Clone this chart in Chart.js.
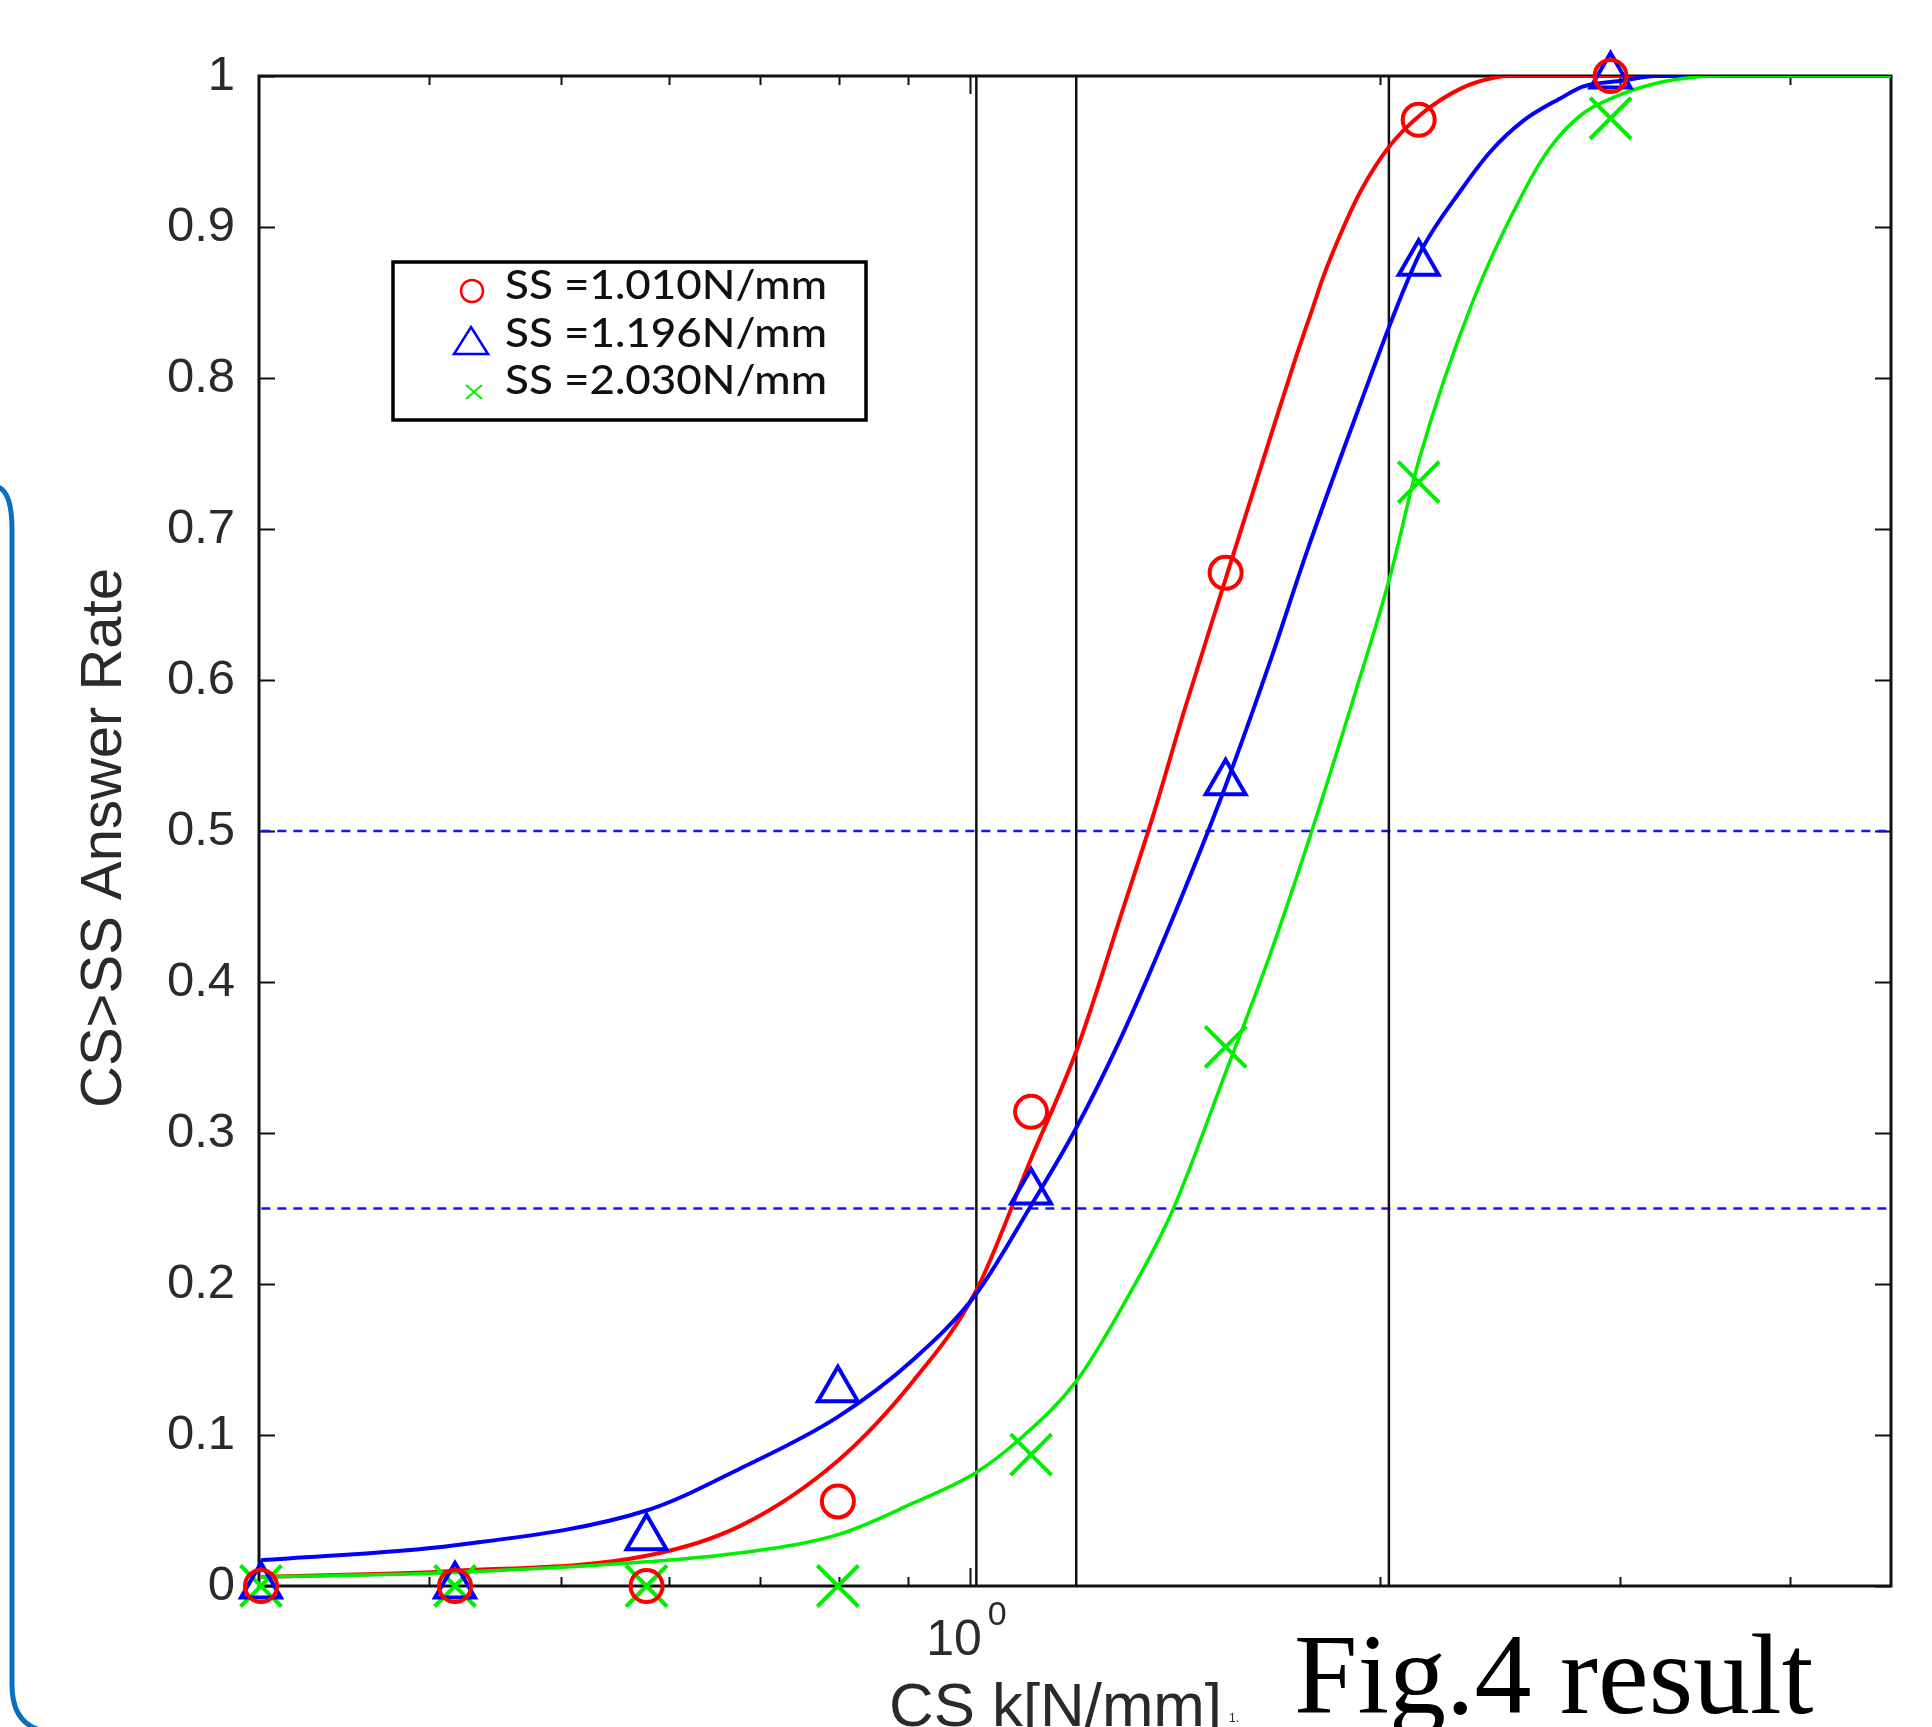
<!DOCTYPE html>
<html>
<head>
<meta charset="utf-8">
<script src="https://cdn.jsdelivr.net/npm/chart.js@4.4.0/dist/chart.umd.min.js"></script>
<style>
  html, body { margin: 0; padding: 0; background: #fff; }
  #wrap { width: 1932px; height: 1727px; position: relative; }
</style>
</head>
<body>
<div id="wrap"><canvas id="rateChart"></canvas></div>
<script>
// CS stiffness values of the trials (log axis)
const csValues = [0.301, 0.418, 0.578, 0.799, 1.108, 1.540, 2.135, 2.954];

// measured answer rates
const rate1010 = [0, 0, 0, 0.056, 0.314, 0.671, 0.971, 1.0];
const rate1196 = [0, 0, 0.032, 0.130, 0.261, 0.532, 0.876, 1.0];
const rate2030 = [0, 0, 0, 0, 0.087, 0.357, 0.731, 0.972];

// fitted curves
const fit1010X = [0.301, 0.418, 0.578, 0.678, 0.799, 0.908, 1.009, 1.108, 1.197, 1.293, 1.362, 1.435, 1.540, 1.660, 1.732, 1.787, 1.815, 1.872, 1.936, 2.030, 2.146, 2.296, 2.428, 2.494, 4.748];
const fit1010Y = [0.006, 0.010, 0.020, 0.040, 0.083, 0.136, 0.195, 0.283, 0.355, 0.447, 0.510, 0.579, 0.667, 0.760, 0.812, 0.848, 0.866, 0.896, 0.924, 0.953, 0.975, 0.992, 0.999, 1.0, 1.0];

const fit1196X = [0.301, 0.418, 0.578, 0.678, 0.799, 0.908, 1.009, 1.108, 1.197, 1.293, 1.405, 1.540, 1.660, 1.767, 1.920, 2.068, 2.146, 2.296, 2.411, 2.545, 2.723, 2.818, 3.018, 3.187, 4.748];
const fit1196Y = [0.017, 0.027, 0.050, 0.078, 0.112, 0.150, 0.193, 0.252, 0.304, 0.365, 0.440, 0.530, 0.612, 0.685, 0.775, 0.852, 0.885, 0.925, 0.950, 0.970, 0.986, 0.993, 0.997, 1.0, 1.0];

const fit2030X = [0.301, 0.418, 0.578, 0.678, 0.799, 0.908, 1.009, 1.086, 1.197, 1.293, 1.405, 1.540, 1.660, 1.767, 1.920, 2.032, 2.135, 2.343, 2.563, 2.669, 2.818, 2.973, 3.187, 3.386, 3.574, 4.748];
const fit2030Y = [0.006, 0.009, 0.016, 0.022, 0.034, 0.055, 0.075, 0.097, 0.136, 0.185, 0.247, 0.340, 0.418, 0.490, 0.593, 0.667, 0.745, 0.852, 0.927, 0.953, 0.975, 0.986, 0.995, 0.999, 1.0, 1.0];

// reference lines
const ssValues = [1.010, 1.196, 2.030];
const levelLines = [0.5, 0.25];

// axes
const xMin = 0.3012;
const xMax = 4.748;
const xTickValues = [0.4, 0.5, 0.6, 0.7, 0.8, 0.9, 1, 2, 3, 4];
const yTickValues = [0, 0.1, 0.2, 0.3, 0.4, 0.5, 0.6, 0.7, 0.8, 0.9, 1];

const legendLabels = ['SS =1.010N/mm', 'SS =1.196N/mm', 'SS =2.030N/mm'];

const RED = '#ff0000';
const BLUE = '#0000ff';
const GREEN = '#00ee00';

const pts = (xs, ys) => xs.map((v, i) => ({ x: v, y: ys[i] }));

const datasets = [];

// markers (on top)
datasets.push({
    label: legendLabels[0], data: pts(csValues, rate1010), showLine: false,
    pointStyle: 'circle', pointRadius: 16, pointBorderWidth: 4,
    borderColor: RED, backgroundColor: 'transparent', clip: false, order: 0
});
datasets.push({
    label: legendLabels[1], data: pts(csValues, rate1196), showLine: false,
    pointStyle: 'triangle', pointRadius: 23, pointBorderWidth: 4,
    borderColor: BLUE, backgroundColor: 'transparent', clip: false, order: 0
});
datasets.push({
    label: legendLabels[2], data: pts(csValues, rate2030), showLine: false,
    pointStyle: 'crossRot', pointRadius: 29, pointBorderWidth: 4,
    borderColor: GREEN, backgroundColor: 'transparent', clip: false, order: 0
});

// fitted curves
[[fit1010X, fit1010Y, RED, 4, 3], [fit1196X, fit1196Y, BLUE, 4, 2], [fit2030X, fit2030Y, GREEN, 3.5, 1]]
    .forEach(([xs, ys, col, w, ord]) => {
        datasets.push({
            data: pts(xs, ys), showLine: true, pointRadius: 0,
            borderColor: col, borderWidth: w, cubicInterpolationMode: 'monotone',
            order: ord
        });
    });

// vertical SS lines
ssValues.forEach(v => {
    datasets.push({
        data: [{ x: v, y: 0 }, { x: v, y: 1 }], showLine: true, pointRadius: 0,
        borderColor: '#111', borderWidth: 2.5, order: 5
    });
});

// dashed levels
levelLines.forEach(v => {
    datasets.push({
        data: [{ x: xMin, y: v }, { x: xMax, y: v }], showLine: true, pointRadius: 0,
        borderColor: '#1010ff', borderWidth: 2.5, borderDash: [9, 7], order: 5
    });
});

const decorPlugin = {
    id: 'decor',
    beforeDatasetsDraw(chart) {
        const { ctx, chartArea: a, scales: { x, y } } = chart;
        ctx.save();
        ctx.strokeStyle = '#111';
        ctx.lineWidth = 2;
        ctx.beginPath();
        yTickValues.forEach(v => {
            const py = Math.round(y.getPixelForValue(v)) + 0.5;
            ctx.moveTo(a.left, py); ctx.lineTo(a.left + 16, py);
            ctx.moveTo(a.right, py); ctx.lineTo(a.right - 16, py);
        });
        xTickValues.forEach(v => {
            const px = Math.round(x.getPixelForValue(v)) + 0.5;
            const len = v === 1 ? 18 : 9;
            ctx.moveTo(px, a.bottom); ctx.lineTo(px, a.bottom - len);
            ctx.moveTo(px, a.top); ctx.lineTo(px, a.top + len);
        });
        ctx.stroke();
        ctx.lineWidth = 3;
        ctx.strokeRect(a.left, a.top, a.right - a.left, a.bottom - a.top);
        ctx.restore();
    },
    afterDraw(chart) {
        const { ctx, scales: { x } } = chart;
        ctx.save();

        // 10^0 label
        const p1 = x.getPixelForValue(1);
        ctx.fillStyle = '#2a2a2a';
        ctx.textBaseline = 'alphabetic';
        ctx.font = '50px "Liberation Sans", Arial, sans-serif';
        const w10 = ctx.measureText('10').width;
        ctx.font = '34px "Liberation Sans", Arial, sans-serif';
        const w0 = ctx.measureText('0').width;
        const startX = p1 - (w10 + 6 + w0) / 2 - 4;
        ctx.font = '50px "Liberation Sans", Arial, sans-serif';
        ctx.fillText('10', startX, 1655);
        ctx.font = '34px "Liberation Sans", Arial, sans-serif';
        ctx.fillText('0', startX + w10 + 6, 1625);

        // x title
        ctx.font = '62px "Liberation Sans", Arial, sans-serif';
        const tw = ctx.measureText('CS k[N/mm]').width;
        ctx.save();
        ctx.translate(889, 1726);
        ctx.scale(333 / tw, 1);
        ctx.fillText('CS k[N/mm]', 0, 0);
        ctx.restore();
        ctx.font = '12px "Liberation Sans", Arial, sans-serif';
        ctx.fillText('1.', 1229, 1722);

        // y title
        ctx.save();
        ctx.translate(105, 838);
        ctx.rotate(-Math.PI / 2);
        ctx.textAlign = 'center';
        ctx.textBaseline = 'middle';
        ctx.font = '58px "Liberation Sans", Arial, sans-serif';
        ctx.fillText('CS>SS Answer Rate', 0, 0);
        ctx.restore();

        // caption
        ctx.fillStyle = '#000';
        ctx.font = '114px "Liberation Serif", "Times New Roman", serif';
        ctx.fillText('Fig.4 result', 1294, 1713);

        // legend box
        ctx.fillStyle = '#fff';
        ctx.fillRect(393, 262, 473, 158);
        ctx.strokeStyle = '#000';
        ctx.lineWidth = 3.5;
        ctx.strokeRect(393, 262, 473, 158);

        const rows = [299, 347, 394];
        const markY = [291, 341, 392];
        ctx.lineWidth = 2.5;
        // circle
        ctx.strokeStyle = RED;
        ctx.beginPath(); ctx.arc(472, markY[0], 11, 0, Math.PI * 2); ctx.stroke();
        // triangle
        ctx.strokeStyle = BLUE;
        ctx.beginPath();
        ctx.moveTo(471, markY[1] - 14); ctx.lineTo(488, markY[1] + 13); ctx.lineTo(454, markY[1] + 13);
        ctx.closePath(); ctx.stroke();
        // x
        ctx.strokeStyle = GREEN;
        ctx.lineWidth = 2;
        ctx.beginPath();
        ctx.moveTo(466, markY[2] - 7); ctx.lineTo(482, markY[2] + 7);
        ctx.moveTo(482, markY[2] - 7); ctx.lineTo(466, markY[2] + 7);
        ctx.stroke();

        ctx.fillStyle = '#111';
        ctx.font = '500 41px Lato, "Open Sans", sans-serif';
        legendLabels.forEach((t, i) => {
            const w = ctx.measureText(t).width;
            ctx.save();
            ctx.translate(505, rows[i]);
            ctx.scale(322 / w, 1);
            ctx.fillText(t, 0, 0);
            ctx.restore();
        });

        // blue frame edge at left
        ctx.strokeStyle = '#0b6fbf';
        ctx.lineWidth = 5;
        ctx.beginPath();
        ctx.moveTo(-2, 487);
        ctx.quadraticCurveTo(12, 492, 12, 530);
        ctx.lineTo(12, 1685);
        ctx.quadraticCurveTo(12, 1722, 40, 1730);
        ctx.stroke();

        ctx.restore();
    }
};

document.addEventListener('DOMContentLoaded', () => {
    const ctx = document.getElementById('rateChart');

    new Chart(ctx, {
        type: 'scatter',
        data: { datasets: datasets },
        options: {
            responsive: true,
            maintainAspectRatio: false,
            animation: false,
            devicePixelRatio: 1,
            layout: { padding: { left: 0, top: 76, right: 41, bottom: 0 } },
            plugins: {
                legend: { display: false },
                tooltip: { enabled: false }
            },
            scales: {
                x: {
                    type: 'logarithmic',
                    min: xMin,
                    max: xMax,
                    grid: { display: false },
                    border: { display: false },
                    ticks: { display: false },
                    afterFit: (s) => { s.height = 141; }
                },
                y: {
                    min: 0,
                    max: 1,
                    grid: { display: false },
                    border: { display: false },
                    afterBuildTicks: (s) => { s.ticks = yTickValues.map(v => ({ value: v })); },
                    ticks: {
                        padding: 16,
                        color: '#2a2a2a',
                        font: { family: '"Liberation Sans", Arial, sans-serif', size: 49 },
                        callback: (v) => String(Math.round(v * 10) / 10)
                    },
                    afterFit: (s) => { s.width = 259; }
                }
            }
        },
        plugins: [decorPlugin]
    });
});
</script>
</body>
</html>
